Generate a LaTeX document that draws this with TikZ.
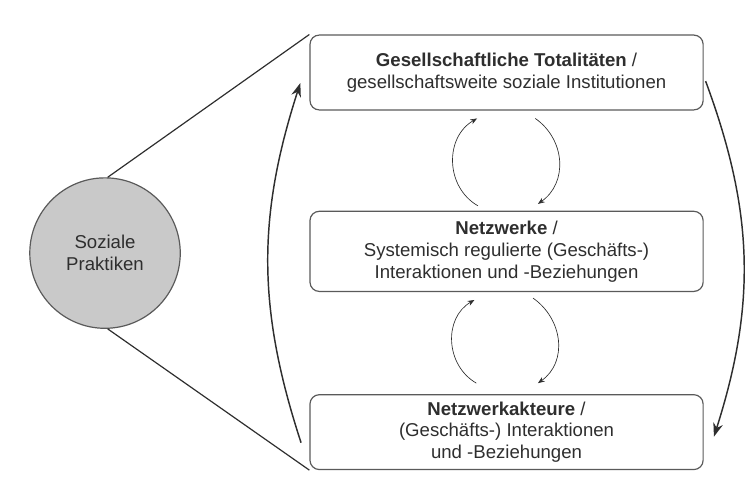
\documentclass[tikz,border=0pt]{standalone}
\usepackage{fontspec}
\setmainfont{Liberation Sans}
\usetikzlibrary{arrows.meta, positioning}
\definecolor{randgrau}{HTML}{5A5A5A}
\definecolor{textgrau}{HTML}{2E2E2E}
\definecolor{kreisgrau}{HTML}{C9C9C9}
\begin{document}
\begin{tikzpicture}[
    ebene/.style={rectangle, draw=randgrau, line width=0.9pt, rounded corners=7pt, minimum width=10.4cm, minimum height=1.98cm, align=center, text=textgrau},
    praxis/.style={circle, draw=randgrau, fill=kreisgrau, line width=0.9pt, minimum size=3.98cm, align=center, text=textgrau},
    kreislauf/.style={-{Stealth[length=3.6mm, width=2.6mm]}, line width=1.1pt, textgrau},
    wechsel/.style={-{Stealth[length=1.8mm, width=1.4mm]}, line width=0.5pt, textgrau},
    verbindung/.style={line width=0.9pt, textgrau},
    every node/.append style={font=\fontsize{14}{16.5}\selectfont}
]
    \useasboundingbox (0,0) rectangle (19.84,12.885);

    \node[ebene] (ges) at (13.40,10.967) {\textbf{Gesellschaftliche Totalitäten} /\\gesellschaftsweite soziale Institutionen};
    \node[ebene, minimum height=2.12cm, below=2.65cm of ges] (netz) {\textbf{Netzwerke} /\\Systemisch regulierte (Geschäfts-)\\Interaktionen und -Beziehungen};
    \node[ebene, below=2.70cm of netz] (akt) {\textbf{Netzwerkakteure} /\\(Geschäfts-) Interaktionen\\und -Beziehungen};
    \node[praxis] (soz) at (2.778,6.19) {Soziale\\Praktiken};

    \draw[verbindung] (soz.88) -- (ges.north west);
    \draw[verbindung] (soz.-88) -- (akt.south west);

    \draw[kreislauf] ([shift={(-0.22,-0.28)}]akt.west) to[bend left=18] ([shift={(-0.24,-0.28)}]ges.west);
    \draw[kreislauf] ([shift={(0.05,-0.23)}]ges.east) to[bend left=19] ([shift={(0.27,-0.12)}]akt.east);

    \draw[wechsel] ([shift={(-0.76,0.13)}]netz.north) to[out=150, in=210, looseness=1.1] ([shift={(-0.78,-0.21)}]ges.south);
    \draw[wechsel] ([shift={(0.76,-0.21)}]ges.south) to[out=-35, in=35, looseness=1.1] ([shift={(0.83,0.18)}]netz.north);
    \draw[wechsel] ([shift={(-0.80,0.29)}]akt.north) to[out=150, in=210, looseness=1.1] ([shift={(-0.85,-0.21)}]netz.south);
    \draw[wechsel] ([shift={(0.70,-0.16)}]netz.south) to[out=-35, in=35, looseness=1.1] ([shift={(0.83,0.29)}]akt.north);
\end{tikzpicture}
\end{document}
